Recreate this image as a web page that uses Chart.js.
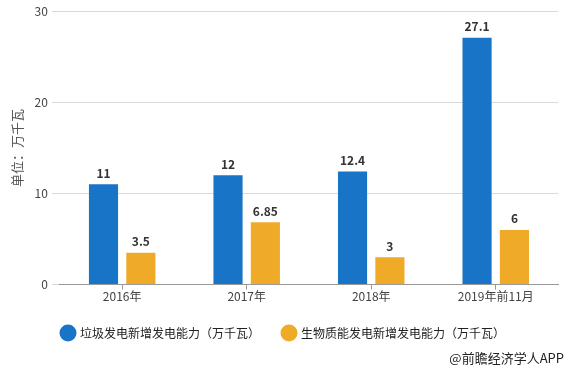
<!DOCTYPE html>
<html>
<head>
<meta charset="utf-8">
<script src="https://cdn.jsdelivr.net/npm/chart.js@4/dist/chart.umd.min.js"></script>
<style>
  body { margin: 0; background: #fff; }
  #wrap { position: relative; width: 567px; height: 367px; }
  #source {
    position: absolute; right: 3px; top: 348px;
    font: 13px "Noto Sans CJK SC", sans-serif; color: #222;
  }
</style>
</head>
<body>
<div id="wrap">
  <canvas id="chart" width="567" height="367"></canvas>
  <div id="source">@前瞻经济学人APP</div>
</div>
<script>
const categories = ['2016年', '2017年', '2018年', '2019年前11月'];
const garbageValues = [11, 12, 12.4, 27.1];
const biomassValues = [3.5, 6.85, 3, 6];
const seriesNames = ['垃圾发电新增发电能力（万千瓦）', '生物质能发电新增发电能力（万千瓦）'];
const yTicks = [0, 10, 20, 30];

const FONT = '"Noto Sans CJK SC", "Noto Sans", sans-serif';

const valueLabels = {
  id: 'valueLabels',
  afterDatasetsDraw(chart) {
    const ctx = chart.ctx;
    ctx.save();
    ctx.font = 'bold 12px ' + FONT;
    ctx.fillStyle = '#333';
    ctx.textAlign = 'center';
    ctx.textBaseline = 'bottom';
    chart.data.datasets.forEach((ds, i) => {
      chart.getDatasetMeta(i).data.forEach((bar, j) => {
        ctx.fillText(String(ds.data[j]), bar.x, bar.y - 5);
      });
    });
    ctx.restore();
  },
};

new Chart(document.getElementById('chart'), {
  type: 'bar',
  data: {
    labels: categories,
    datasets: [
      {
        label: seriesNames[0],
        data: garbageValues,
        backgroundColor: '#1874c6',
        barPercentage: 0.78,
        categoryPercentage: 0.6,
      },
      {
        label: seriesNames[1],
        data: biomassValues,
        backgroundColor: '#efab27',
        barPercentage: 0.78,
        categoryPercentage: 0.6,
      },
    ],
  },
  options: {
    responsive: false,
    animation: false,
    layout: { padding: { top: 4, right: 9, bottom: 18, left: 9 } },
    scales: {
      x: {
        grid: { offset: false, drawOnChartArea: false, tickLength: 5, color: '#999' },
        border: { color: '#999' },
        ticks: { color: '#444', font: { size: 12, family: FONT }, padding: 0 },
      },
      y: {
        min: 0,
        max: 30,
        afterBuildTicks: (axis) => { axis.ticks = yTicks.map((v) => ({ value: v })); },
        grid: { color: '#d9d9d9', tickLength: 8 },
        border: { display: false },
        ticks: { color: '#444', font: { size: 12, family: FONT }, padding: 4 },
        title: {
          display: true,
          text: '单位：万千瓦',
          color: '#555',
          font: { size: 13, family: FONT },
          padding: { top: 0, bottom: 6 },
        },
      },
    },
    plugins: {
      legend: {
        position: 'bottom',
        labels: {
          usePointStyle: true,
          pointStyle: 'circle',
          boxWidth: 12,
          boxHeight: 12,
          padding: 23,
          color: '#222',
          font: { size: 12, family: FONT },
        },
      },
      tooltip: { enabled: false },
    },
  },
  plugins: [valueLabels],
});
</script>
</body>
</html>
